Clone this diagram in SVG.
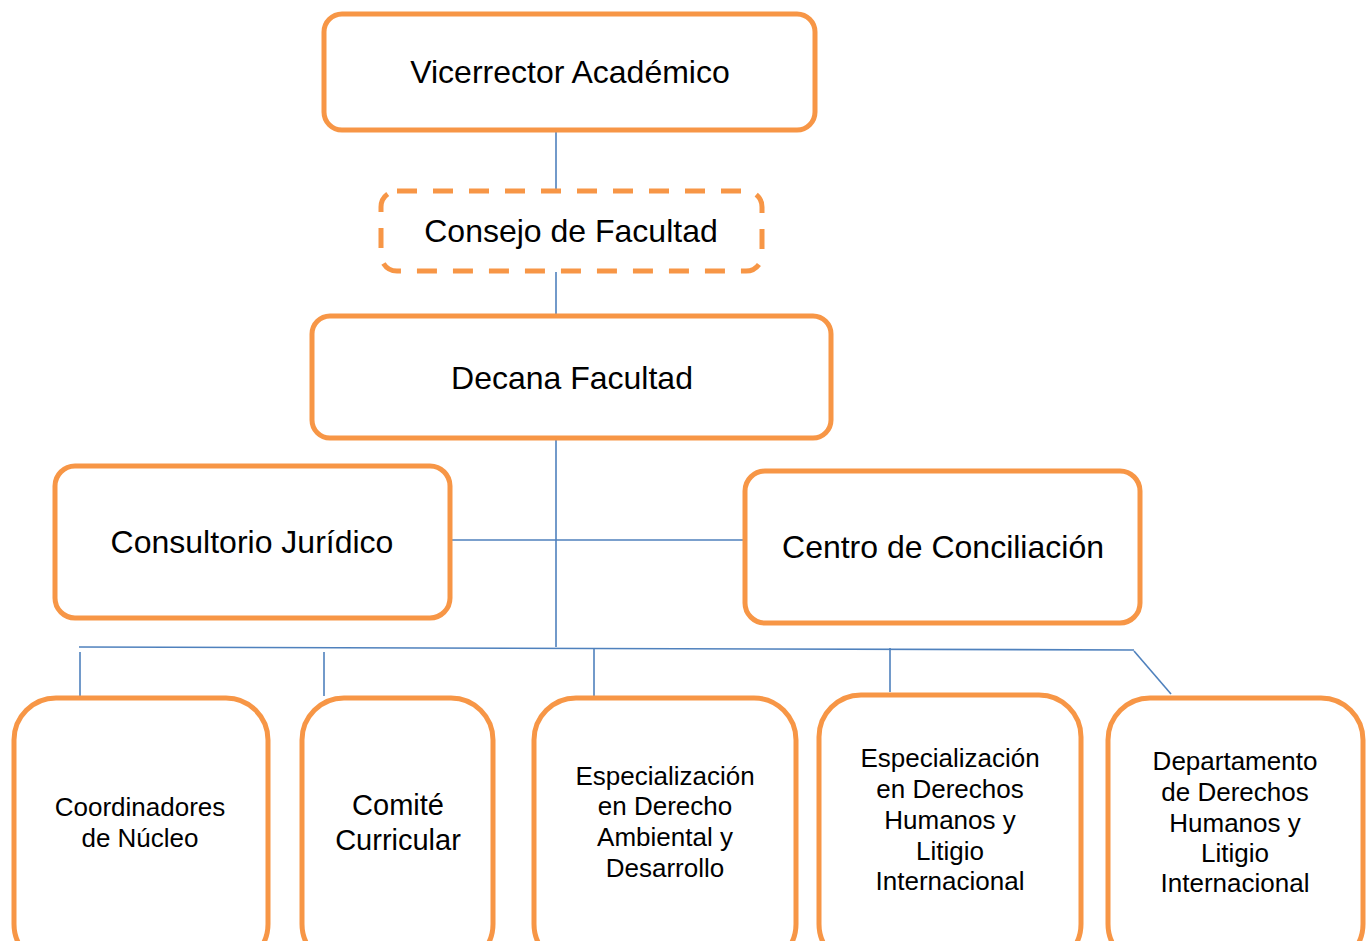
<svg xmlns="http://www.w3.org/2000/svg" width="1370" height="941" viewBox="0 0 1370 941">
<style>
.box{fill:#fff;stroke:#F79646;stroke-width:5}
.dash{fill:#fff;stroke:#F79646;stroke-width:5;stroke-dasharray:20 16}
.ln{stroke:#4F81BD;stroke-width:1.6;fill:none}
text{font-family:"Liberation Sans",Arial,sans-serif;fill:#000;text-anchor:middle}
.big{font-size:32px}
.mid{font-size:29px}
.sm{font-size:26px}
</style>
<rect width="1370" height="941" fill="#fff"/>
<g id="connectors">
<line class="ln" x1="556" y1="131" x2="556" y2="190"/>
<line class="ln" x1="556" y1="272" x2="556" y2="314"/>
<line class="ln" x1="556" y1="439" x2="556" y2="647"/>
<line class="ln" x1="452" y1="540" x2="744" y2="540"/>
<line class="ln" x1="79" y1="647" x2="1134" y2="650"/>
<line class="ln" x1="80" y1="652" x2="80" y2="697"/>
<line class="ln" x1="324" y1="652" x2="324" y2="696"/>
<line class="ln" x1="594" y1="648" x2="594" y2="697"/>
<line class="ln" x1="890" y1="648" x2="890" y2="692"/>
<line class="ln" x1="1134" y1="651" x2="1171" y2="694"/>
</g>
<g id="vicerrector">
<rect class="box" x="324" y="14" width="491" height="116" rx="18"/>
<text class="big" x="570" y="83">Vicerrector Académico</text>
</g>
<g id="consejo">
<rect class="dash" x="381" y="191" width="381" height="80" rx="16"/>
<text class="big" x="571" y="242">Consejo de Facultad</text>
</g>
<g id="decana">
<rect class="box" x="312" y="316" width="519" height="122" rx="18"/>
<text class="big" x="572" y="389">Decana Facultad</text>
</g>
<g id="consultorio">
<rect class="box" x="55" y="466" width="395" height="152" rx="20"/>
<text class="big" x="252" y="553">Consultorio Jurídico</text>
</g>
<g id="centro">
<rect class="box" x="745" y="471" width="395" height="152" rx="20"/>
<text class="big" x="943" y="558">Centro de Conciliación</text>
</g>
<g id="coordinadores">
<rect class="box" x="14" y="698" width="254" height="268" rx="42"/>
<text class="sm" x="140" y="816">Coordinadores</text>
<text class="sm" x="140" y="847">de Núcleo</text>
</g>
<g id="comite">
<rect class="box" x="302" y="698" width="191" height="268" rx="42"/>
<text class="mid" x="398" y="815">Comité</text>
<text class="mid" x="398" y="850">Curricular</text>
</g>
<g id="esp-ambiental">
<rect class="box" x="534" y="698" width="262" height="268" rx="42"/>
<text class="sm" x="665" y="785">Especialización</text>
<text class="sm" x="665" y="815">en Derecho</text>
<text class="sm" x="665" y="846">Ambiental y</text>
<text class="sm" x="665" y="877">Desarrollo</text>
</g>
<g id="esp-ddhh">
<rect class="box" x="819" y="695" width="262" height="271" rx="42"/>
<text class="sm" x="950" y="767">Especialización</text>
<text class="sm" x="950" y="798">en Derechos</text>
<text class="sm" x="950" y="829">Humanos y</text>
<text class="sm" x="950" y="860">Litigio</text>
<text class="sm" x="950" y="890">Internacional</text>
</g>
<g id="depto-ddhh">
<rect class="box" x="1108" y="698" width="255" height="268" rx="42"/>
<text class="sm" x="1235" y="770">Departamento</text>
<text class="sm" x="1235" y="801">de Derechos</text>
<text class="sm" x="1235" y="832">Humanos y</text>
<text class="sm" x="1235" y="862">Litigio</text>
<text class="sm" x="1235" y="892">Internacional</text>
</g>
</svg>
